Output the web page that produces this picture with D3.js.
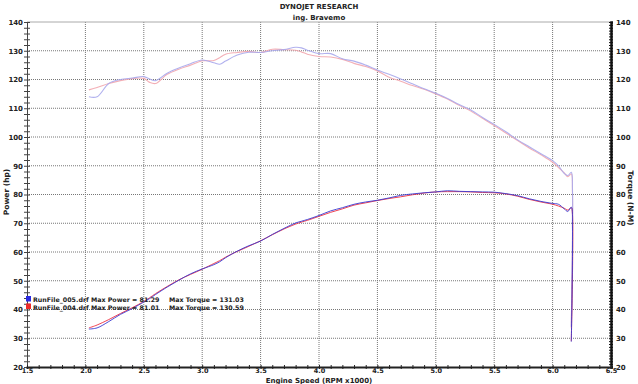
<!DOCTYPE html>
<html>
<head>
<meta charset="utf-8">
<script src="https://cdn.jsdelivr.net/npm/d3@7"></script>
<style>
  body { margin: 0; background: #fff; }
  text { font-family: "DejaVu Sans", Verdana, sans-serif; fill: #222; }
  .grid line { stroke: #777; stroke-width: 1; stroke-dasharray: 1,1; }
</style>
</head>
<body>
<div id="chart"></div>
<script>
// engine speed (RPM x1000), shared by every run
const rpm = [2.03, 2.1, 2.2, 2.3, 2.4, 2.5, 2.55, 2.6, 2.7, 2.8, 2.9, 3.0, 3.1, 3.15, 3.2, 3.3, 3.4, 3.5, 3.6, 3.7,
  3.8, 3.85, 3.9, 4.0, 4.1, 4.2, 4.3, 4.4, 4.5, 4.6, 4.7, 4.8, 4.9, 5.0, 5.1, 5.2, 5.3, 5.4, 5.5, 5.6,
  5.7, 5.8, 5.9, 6.0, 6.05, 6.1, 6.13, 6.16, 6.17, 6.16];

const torque_005 = [114.0, 114.0, 118.6, 120.0, 120.5, 121.0, 120.2, 119.6, 122.2, 124.0, 125.5, 126.8, 125.8, 125.3, 126.4, 128.5, 129.5, 129.4, 130.0, 130.4,
  131.2, 131.0, 130.2, 129.0, 129.0, 127.2, 126.4, 125.0, 123.3, 121.8, 120.2, 118.5, 116.8, 115.2, 113.4, 111.3, 109.4, 106.8, 104.4, 101.8,
  99.0, 96.6, 94.2, 91.8, 90.0, 87.3, 86.6, 87.7, 82.0, 34.0];
const torque_004 = [116.4, 117.2, 118.6, 119.6, 120.3, 120.4, 119.0, 118.6, 121.8, 123.6, 125.0, 126.5, 126.6, 127.6, 128.8, 129.4, 129.8, 129.4, 130.5, 130.4,
  130.2, 129.6, 128.8, 128.0, 127.8, 127.0, 125.6, 124.5, 123.0, 120.8, 119.4, 117.9, 116.6, 115.0, 113.2, 111.0, 109.0, 106.5, 104.0, 101.4,
  98.8, 96.2, 93.8, 91.2, 89.4, 87.5, 86.2, 87.2, 80.5, 33.5];
const power_005 = [33.2, 33.6, 35.8, 38.3, 40.3, 42.6, 43.8, 45.2, 47.8, 50.2, 52.4, 54.1, 55.6, 56.6, 58.0, 60.3, 62.2, 63.8, 66.1, 68.2,
  70.1, 70.7, 71.3, 72.7, 74.3, 75.4, 76.6, 77.4, 78.0, 78.8, 79.7, 80.2, 80.6, 80.9, 81.3, 81.1, 81.0, 80.9, 80.8, 80.3,
  79.6, 78.5, 77.6, 76.9, 76.6, 75.0, 74.1, 75.6, 68.0, 28.8];
const power_004 = [33.6, 34.6, 36.5, 38.6, 40.6, 42.8, 44.1, 45.5, 48.0, 50.3, 52.2, 54.0, 56.0, 57.0, 58.2, 60.2, 62.0, 63.9, 66.0, 68.0,
  69.7, 70.4, 71.0, 72.4, 73.8, 75.0, 76.3, 77.1, 77.9, 78.6, 79.2, 79.9, 80.5, 80.9, 81.0, 81.0, 80.9, 80.7, 80.6, 80.2,
  79.4, 78.3, 77.4, 76.6, 76.0, 75.2, 74.6, 75.4, 73.0, 29.0];

const x_ticks = [1.5, 2.0, 2.5, 3.0, 3.5, 4.0, 4.5, 5.0, 5.5, 6.0, 6.5];
const y_ticks = [20, 30, 40, 50, 60, 70, 80, 90, 100, 110, 120, 130, 140];
const legend_lines = [
  'RunFile_005.drf Max Power = 81.29',
  'RunFile_004.drf Max Power = 81.01'
];
const legend_torque = ['Max Torque = 131.03', 'Max Torque = 130.59'];

const svg_width = 638, svg_height = 384;
const margin = { top: 22, right: 27, bottom: 17, left: 27 },
  width = svg_width - margin.left - margin.right,
  height = svg_height - margin.top - margin.bottom;

const svg = d3.select('#chart').append('svg')
  .attr('width', svg_width)
  .attr('height', svg_height);
const g = svg.append('g')
  .attr('transform', 'translate(' + margin.left + ',' + margin.top + ')');

const x = d3.scaleLinear().domain([1.5, 6.5]).range([0, width]);
const y = d3.scaleLinear().domain([20, 140]).range([height, 0]);

// titles
svg.append('text').attr('x', 319).attr('y', 9).attr('text-anchor', 'middle')
  .style('font-size', '7px').style('font-weight', 'bold').text('DYNOJET RESEARCH');
svg.append('text').attr('x', 319).attr('y', 20).attr('text-anchor', 'middle')
  .style('font-size', '7px').style('font-weight', 'bold').text('ing. Bravemo');

// grid
const grid = g.append('g').attr('class', 'grid');
grid.selectAll('.vg').data(x_ticks.slice(1, -1)).enter().append('line')
  .attr('x1', d => x(d)).attr('x2', d => x(d))
  .attr('y1', 0).attr('y2', height);
grid.selectAll('.hg').data(y_ticks.slice(1, -1)).enter().append('line')
  .attr('x1', 0).attr('x2', width)
  .attr('y1', d => y(d)).attr('y2', d => y(d));

// top border
g.append('line').attr('x1', 0).attr('x2', width).attr('y1', 0).attr('y2', 0)
  .attr('stroke', '#aaa').attr('stroke-width', 1);

// axes
const minor_y = d3.range(20, 141, 2);
const left = g.append('g')
  .call(d3.axisLeft(y).tickValues(minor_y).tickSize(3).tickFormat(''));
left.selectAll('.tick line').attr('x2', 3).attr('x1', -3).attr('stroke', '#444');
left.select('.domain').attr('stroke', '#444');
g.append('g').call(d3.axisLeft(y).tickValues(y_ticks).tickSize(0).tickPadding(4))
  .call(a => a.select('.domain').remove())
  .selectAll('text').style('font-size', '7px').style('font-weight', 'bold')
  .style('font-family', '"DejaVu Sans", sans-serif').attr('fill', '#333');

const right = g.append('g').attr('transform', 'translate(' + width + ',0)')
  .call(d3.axisRight(y).tickValues(d3.range(20, 141, 1)).tickSize(2).tickFormat(''));
right.selectAll('.tick line').attr('x1', -2).attr('stroke', '#111');
right.select('.domain').attr('stroke', '#111').attr('stroke-width', 2.5);
g.append('g').attr('transform', 'translate(' + width + ',0)')
  .call(d3.axisRight(y).tickValues(y_ticks).tickSize(0).tickPadding(5))
  .call(a => a.select('.domain').remove())
  .selectAll('text').style('font-size', '7px').style('font-weight', 'bold')
  .style('font-family', '"DejaVu Sans", sans-serif').attr('fill', '#333');

const bottom = g.append('g').attr('transform', 'translate(0,' + height + ')')
  .call(d3.axisBottom(x).tickValues(d3.range(15, 66, 1).map(d => d / 10)).tickSize(2).tickFormat(''));
bottom.selectAll('.tick line').attr('y1', -2).attr('stroke', '#222');
bottom.select('.domain').attr('stroke', '#222').attr('stroke-width', 2);
g.append('g').attr('transform', 'translate(0,' + height + ')')
  .call(d3.axisBottom(x).tickValues(x_ticks).tickSize(0).tickPadding(1).tickFormat(d3.format('.1f')))
  .call(a => a.select('.domain').remove())
  .selectAll('text').style('font-size', '6.5px').style('font-weight', 'bold')
  .style('font-family', '"DejaVu Sans", sans-serif').attr('fill', '#333');

// axis labels
svg.append('text').attr('x', 319).attr('y', 382.5).attr('text-anchor', 'middle')
  .style('font-size', '7px').style('font-weight', 'bold').text('Engine Speed (RPM x1000)');
svg.append('text').attr('transform', 'translate(9,' + 192 + ') rotate(-90)')
  .attr('text-anchor', 'middle').style('font-size', '7.5px').style('font-weight', 'bold')
  .text('Power (hp)');
svg.append('text').attr('transform', 'translate(628,' + 198 + ') rotate(90)')
  .attr('text-anchor', 'middle').style('font-size', '7.5px').style('font-weight', 'bold')
  .text('Torque (N-M)');

// curves
const line = d3.line()
  .x((d, i) => x(rpm[i]))
  .y(d => y(d))
  .curve(d3.curveCatmullRom.alpha(0.5));

const series = [
  { values: torque_004, color: '#f2a6ae', w: 1.1 },
  { values: torque_005, color: '#a8a8ec', w: 1.1 },
  { values: power_004, color: '#ee3040', w: 1 },
  { values: power_005, color: '#3a3ad0', w: 1 }
];
g.append('g').selectAll('path').data(series).enter().append('path')
  .attr('d', d => line(d.values))
  .attr('fill', 'none')
  .attr('stroke', d => d.color)
  .attr('stroke-width', d => d.w)
  .attr('opacity', 0.9);

// legend
const legend_colors = ['#2a2ae0', '#ee2a2a'];
const lg = svg.append('g');
lg.selectAll('rect').data(legend_lines).enter().append('rect')
  .attr('x', 26).attr('y', (d, i) => 296 + i * 7.5)
  .attr('width', 5).attr('height', 5.5)
  .attr('fill', (d, i) => legend_colors[i]);
lg.selectAll('.l1').data(legend_lines).enter().append('text')
  .attr('x', 33).attr('y', (d, i) => 302 + i * 7.5)
  .style('font-size', '6.3px').style('font-weight', 'bold').attr('fill', '#333')
  .text(d => d);
lg.selectAll('.l2').data(legend_torque).enter().append('text')
  .attr('x', 169).attr('y', (d, i) => 302 + i * 7.5)
  .style('font-size', '6.3px').style('font-weight', 'bold').attr('fill', '#333')
  .text(d => d);
</script>
</body>
</html>
